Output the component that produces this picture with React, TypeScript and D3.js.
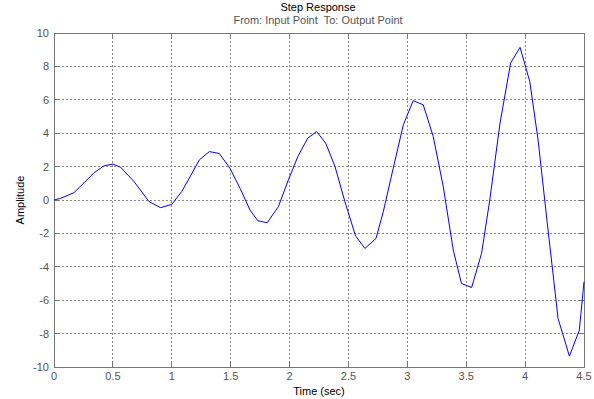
import React from "react";
import * as d3 from "d3";

const times = [0, 0.057, 0.17, 0.255, 0.34, 0.425, 0.5, 0.566, 0.68, 0.807, 0.906, 1.0, 1.084, 1.16, 1.234, 1.319, 1.404, 1.494, 1.58, 1.664, 1.73, 1.81, 1.905, 1.99, 2.07, 2.154, 2.23, 2.307, 2.386, 2.47, 2.56, 2.64, 2.734, 2.796, 2.88, 2.966, 3.05, 3.135, 3.22, 3.305, 3.39, 3.46, 3.546, 3.63, 3.7, 3.787, 3.877, 3.957, 4.04, 4.11, 4.19, 4.28, 4.376, 4.46, 4.5];
const amplitude = [0, 0.1, 0.44, 1.03, 1.63, 2.05, 2.15, 1.96, 1.1, -0.1, -0.46, -0.26, 0.5, 1.45, 2.4, 2.9, 2.78, 1.9, 0.7, -0.6, -1.24, -1.36, -0.4, 1.2, 2.6, 3.7, 4.1, 3.4, 2.0, -0.1, -2.14, -2.9, -2.3, -0.7, 1.9, 4.5, 5.95, 5.7, 3.8, 0.8, -3.0, -5.0, -5.24, -3.2, 0, 4.6, 8.2, 9.14, 7.08, 3.6, -1.5, -7.1, -9.35, -7.8, -4.9];
const xTicks = [0, 0.5, 1, 1.5, 2, 2.5, 3, 3.5, 4, 4.5];
const yTicks = [-10, -8, -6, -4, -2, 0, 2, 4, 6, 8, 10];
const title = "Step Response";
const subtitle = "From: Input Point  To: Output Point";
const xLabel = "Time (sec)";
const yLabel = "Amplitude";

export default function App() {
  const W = 594, H = 399;
  const L = 54, R = 584, T = 33, B = 367;
  const x = d3.scaleLinear().domain([0, 4.5]).range([L, R]);
  const y = d3.scaleLinear().domain([-10, 10]).range([B, T]);
  const pts: [number, number][] = times.map((t, i) => [t, amplitude[i]]);
  const line = d3.line<[number, number]>().x(d => x(d[0])).y(d => y(d[1]));
  const font = "Arial, 'Liberation Sans', sans-serif";
  return (
    <svg width={W} height={H} style={{ position: "absolute", left: 0, top: 0, background: "#fff" }}>
      <rect x={0} y={0} width={W} height={H} fill="#fff" />
      {xTicks.slice(1, -1).map(t => (
        <line key={"gx" + t} x1={x(t)} x2={x(t)} y1={T} y2={B} stroke="#8a8a8a" strokeWidth={1} strokeDasharray="2,2" shapeRendering="crispEdges" />
      ))}
      {yTicks.slice(1, -1).map(v => (
        <line key={"gy" + v} x1={L} x2={R} y1={y(v)} y2={y(v)} stroke="#8a8a8a" strokeWidth={1} strokeDasharray="2,2" shapeRendering="crispEdges" />
      ))}
      {xTicks.map(t => (
        <g key={"tx" + t}>
          <line x1={x(t)} x2={x(t)} y1={B} y2={B - 5} stroke="#777" shapeRendering="crispEdges" />
          <line x1={x(t)} x2={x(t)} y1={T} y2={T + 5} stroke="#777" shapeRendering="crispEdges" />
          <text x={x(t)} y={380} textAnchor="middle" fontFamily={font} fontSize={11} fill="#555">{String(t)}</text>
        </g>
      ))}
      {yTicks.map(v => (
        <g key={"ty" + v}>
          <line x1={L} x2={L + 5} y1={y(v)} y2={y(v)} stroke="#777" shapeRendering="crispEdges" />
          <line x1={R} x2={R - 5} y1={y(v)} y2={y(v)} stroke="#777" shapeRendering="crispEdges" />
          <text x={49} y={y(v) + 4} textAnchor="end" fontFamily={font} fontSize={11} fill="#555">{String(v)}</text>
        </g>
      ))}
      <rect x={L} y={T} width={R - L} height={B - T} fill="none" stroke="#777" strokeWidth={1} shapeRendering="crispEdges" />
      <path d={line(pts) || ""} fill="none" stroke="#0000ff" strokeWidth={1} />
      <text x={318} y={11} textAnchor="middle" fontFamily={font} fontSize={11} fill="#000">{title}</text>
      <text x={318} y={24} textAnchor="middle" fontFamily={font} fontSize={11} fill="#555" style={{ whiteSpace: "pre" }}>{subtitle}</text>
      <text x={319} y={395} textAnchor="middle" fontFamily={font} fontSize={11} fill="#000">{xLabel}</text>
      <text transform={`translate(24,${(T + B) / 2}) rotate(-90)`} textAnchor="middle" fontFamily={font} fontSize={11} fill="#000">{yLabel}</text>
    </svg>
  );
}
